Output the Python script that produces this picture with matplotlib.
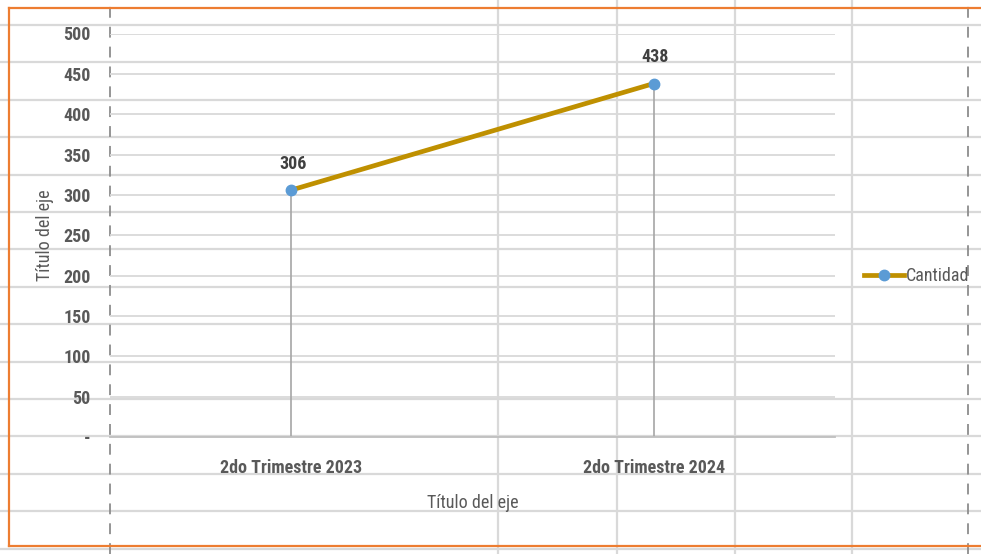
import matplotlib
matplotlib.use("Agg")
import matplotlib.pyplot as plt
from matplotlib import font_manager
from matplotlib.ticker import FuncFormatter

categories = ["2do Trimestre 2023", "2do Trimestre 2024"]
values = [306, 438]
series_name = "Cantidad"
y_ticks = list(range(0, 501, 50))
axis_title = "Título del eje"

# choose a narrow font if one is installed
entries = font_manager.fontManager.ttflist
narrow = None
for pref in ["Liberation Sans Narrow", "Arial Narrow", "Roboto Condensed", "Open Sans Condensed"]:
    if any(e.name == pref for e in entries):
        narrow = (pref, "normal")
        break
if narrow is None:
    for e in entries:
        if e.name in ("DejaVu Sans", "Roboto", "Open Sans", "Noto Sans") and str(e.stretch) in ("condensed", "semi-condensed", "75", "87"):
            narrow = (e.name, "condensed")
            break
if narrow is not None:
    FAMILY, STRETCH, FS = narrow[0], narrow[1], 13
else:
    FAMILY, STRETCH, FS = "Liberation Sans", "normal", 11.5
plt.rcParams["font.family"] = [FAMILY, "DejaVu Sans"]
plt.rcParams["font.stretch"] = STRETCH

W, H = 981, 554
fig = plt.figure(figsize=(W / 100, H / 100), dpi=100)
fig.patch.set_facecolor("white")

# spreadsheet background
bg = fig.add_axes([0, 0, 1, 1], zorder=0)
bg.set_xlim(0, W)
bg.set_ylim(H, 0)
bg.axis("off")
sheet = "#d9d9d9"
y = 25.0
while y < H:
    bg.axhline(y, color=sheet, lw=1.6)
    y += 37.4
for x in [498, 617, 735, 852]:
    bg.axvline(x, color=sheet, lw=1.6)
for x in [110, 968]:
    bg.axvline(x, color="#8c8c8c", lw=1.3, ls=(0, (6, 5)))
# chart border (orange)
orange = "#ed7d31"
bg.plot([9, 9], [8, 546], color=orange, lw=1.6)
bg.plot([9, W], [8, 8], color=orange, lw=1.6)
bg.plot([9, W], [546, 546], color=orange, lw=1.6)

# chart axes
left, right, top, bottom = 110, 835, 33.5, 437
ax = fig.add_axes([left / W, 1 - bottom / H, (right - left) / W, (bottom - top) / H], zorder=2)
ax.patch.set_alpha(0)
ax.set_xlim(-0.5, len(categories) - 0.5)
ax.set_ylim(0, 500)
ax.set_yticks(y_ticks)
ax.yaxis.set_major_formatter(FuncFormatter(lambda v, p: "-" if v == 0 else f"{int(v)}"))
ax.grid(axis="y", color=sheet, lw=1.3)
ax.set_axisbelow(True)
for s in ["top", "right", "left"]:
    ax.spines[s].set_visible(False)
ax.spines["bottom"].set_color("#bfbfbf")
ax.spines["bottom"].set_linewidth(1.3)
ax.tick_params(axis="both", length=0, labelsize=FS, labelcolor="#595959")
ax.tick_params(axis="y", pad=14)
ax.tick_params(axis="x", pad=16)
ax.set_xticks(range(len(categories)))
ax.set_xticklabels(categories, fontweight="bold")
for t in ax.get_yticklabels():
    t.set_fontweight("bold")

xs = list(range(len(categories)))
ax.vlines(xs, 0, values, color="#a6a6a6", lw=1.2, zorder=2)
ax.plot(xs, values, color="#bf9000", lw=3.4, marker="o", markersize=7.5,
        markerfacecolor="#5b9bd5", markeredgecolor="#5b9bd5", zorder=3, label=series_name,
        clip_on=False)
for x, v in zip(xs, values):
    ax.annotate(f"{v}", (x, v), xytext=(1, 19), textcoords="offset points", ha="center",
                va="center", fontsize=FS, color="#404040", fontweight="bold")

ax.set_xlabel(axis_title, fontsize=FS, color="#595959", labelpad=12)
ax.set_ylabel(axis_title, fontsize=FS, color="#595959", labelpad=12)
ax.yaxis.set_label_coords(-56 / (right - left), (bottom - 235) / (bottom - top))

leg = ax.legend(loc="center left", bbox_to_anchor=((864 - left) / (right - left), (bottom - 276) / (bottom - top)),
                frameon=False, fontsize=FS, handlelength=2.2,
                handletextpad=0.12, borderaxespad=0, borderpad=0)
for t in leg.get_texts():
    t.set_color("#595959")

fig.savefig("out.png", dpi=100, facecolor="white")
